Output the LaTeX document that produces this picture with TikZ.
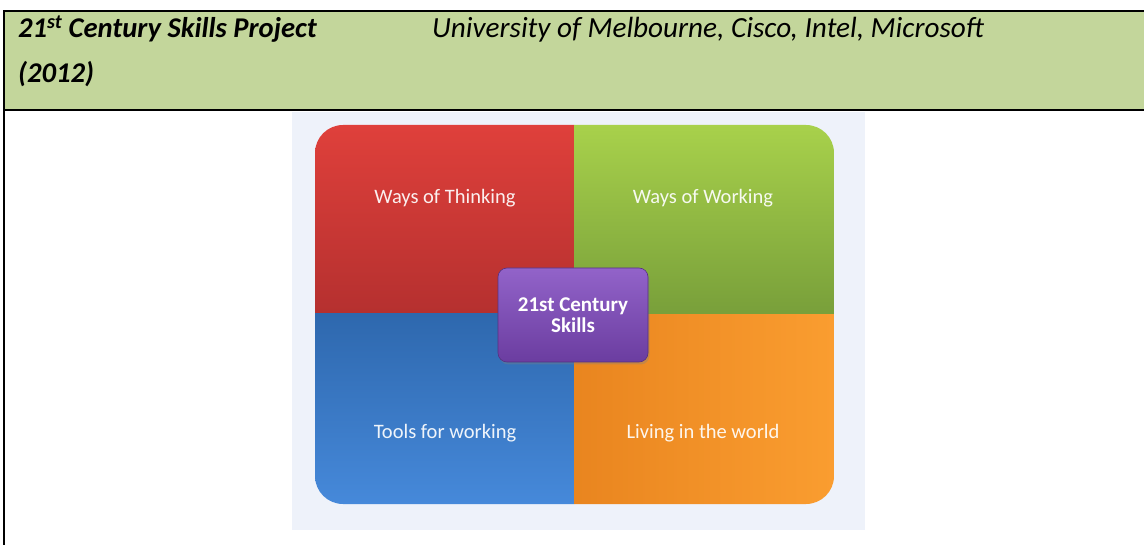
\documentclass[tikz,border=0pt]{standalone}
\usepackage{fontspec}
\setmainfont{Carlito}
\usetikzlibrary{positioning,shadows}

\definecolor{headgreen}{HTML}{C3D69B}
\definecolor{panelback}{HTML}{EEF2FA}
\definecolor{thinktop}{HTML}{DF403B}
\definecolor{thinkbot}{HTML}{B5302F}
\definecolor{worktop}{HTML}{A8D14B}
\definecolor{workbot}{HTML}{789F3A}
\definecolor{toolstop}{HTML}{2E68AE}
\definecolor{toolsbot}{HTML}{4689DA}
\definecolor{liveleft}{HTML}{E9851F}
\definecolor{liveright}{HTML}{FA9D30}
\definecolor{skilltop}{HTML}{9263C9}
\definecolor{skillbot}{HTML}{6B3DA0}

\begin{document}
\begin{tikzpicture}[x=1pt, y=-1pt,
    rule/.style={line width=1.4pt, black},
    headtext/.style={anchor=base west, inner sep=0, font=\fontsize{29.2}{34}\selectfont\itshape},
    quadlabel/.style={text=white, text opacity=0.92, inner sep=0, font=\fontsize{20.5}{22}\selectfont},
    skillsbox/.style={rounded corners=9pt, minimum width=150pt, minimum height=94pt,
        top color=skilltop, bottom color=skillbot, draw=skillbot!80!black, line width=0.6pt,
        drop shadow={opacity=0.35, shadow xshift=1.5pt, shadow yshift=-2.5pt},
        align=center, text=white, font=\fontsize{21}{20}\selectfont\bfseries}]
    \useasboundingbox (0,0) rectangle (1144,545);

    % header row of the table
    \fill[headgreen] (4,11) rectangle (1144,110);
    \node[headtext, font=\fontsize{28.6}{34}\selectfont\bfseries\itshape] (project) at (18,38) {21\textsuperscript{st} Century Skills Project};
    \node[headtext, font=\fontsize{28.6}{34}\selectfont\bfseries\itshape] (year) at (18,83) {(2012)};
    \node[headtext] (partners) at (432,38) {University of Melbourne, Cisco, Intel, Microsoft};

    % table rules
    \coordinate (tl) at (4,11);
    \coordinate (tr) at (1144,11);
    \coordinate (ml) at (4,110);
    \coordinate (mr) at (1144,110);
    \coordinate (bl) at (4,545);
    \draw[rule] (tr) -- (tl) -- (bl);
    \draw[rule] (ml) -- (mr);

    % picture of the four quadrants
    \fill[panelback] (292,112) rectangle (865,530);
    \begin{scope}
        \clip[rounded corners=28pt] (315,125) rectangle (834,504);
        \shade[top color=thinktop, bottom color=thinkbot] (315,125) rectangle (574,314);
        \shade[top color=worktop, bottom color=workbot] (574,125) rectangle (834,315);
        \shade[top color=toolstop, bottom color=toolsbot] (315,314) rectangle (574,504);
        \shade[left color=liveleft, right color=liveright] (574,315) rectangle (834,504);
    \end{scope}

    \node[quadlabel] (thinking) at (445,198) {Ways of Thinking};
    \node[quadlabel] (working)  at (703,198) {Ways of Working};
    \node[quadlabel] (tools)    at (445,433) {Tools for working};
    \node[quadlabel] (living)   at (703,433) {Living in the world};

    \node[skillsbox] (skills) at (573,315) {21st Century\\[1pt]Skills};
\end{tikzpicture}
\end{document}
